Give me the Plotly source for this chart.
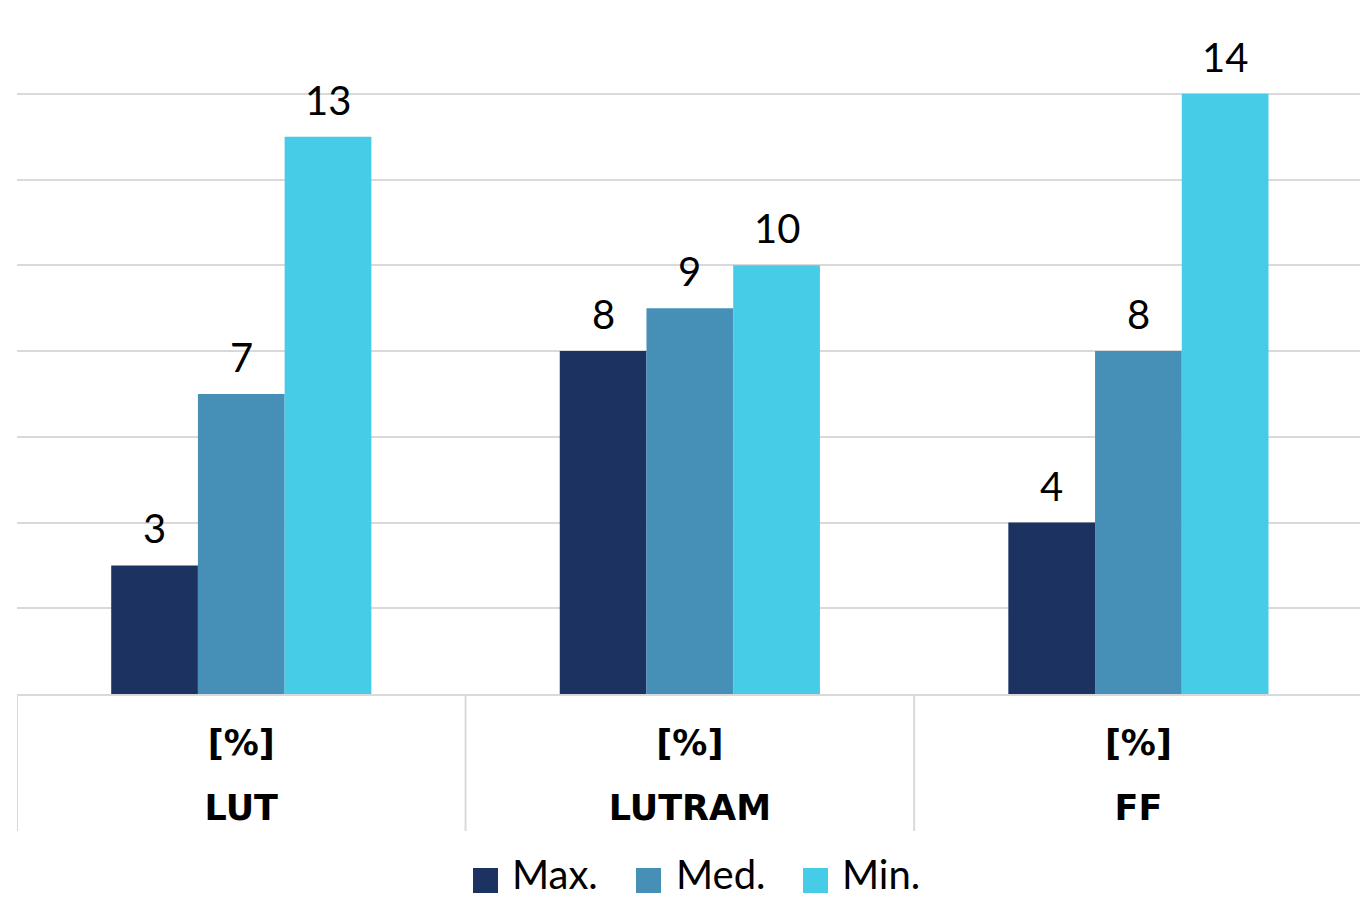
import plotly.graph_objects as go

# Resource categories and the unit shown under each group
categories = ["LUT", "LUTRAM", "FF"]
unit = "[%]"

# Utilisation per statistic
series_names = ["Max.", "Med.", "Min."]
max_vals = [3, 8, 4]
med_vals = [7, 9, 8]
min_vals = [13, 10, 14]

colors = ["#1C3361", "#4690B8", "#47CCE8"]
values = [max_vals, med_vals, min_vals]

W, H = 1360, 899
m_l, m_r, m_t, m_b = 17, 0, 8, 205
plot_w = W - m_l - m_r
plot_h = H - m_t - m_b
x_range = [-0.5, 2.494]

fig = go.Figure()
for name, vals, col in zip(series_names, values, colors):
    fig.add_trace(go.Bar(
        x=categories, y=vals, name=name,
        marker=dict(color=col, line=dict(width=0)),
        showlegend=False,
    ))

# Value labels above each bar
group_w = plot_w / (x_range[1] - x_range[0])
bar_w = group_w * (1 - 0.42) / 3
label_font = dict(family="Lato, Open Sans, sans-serif", size=40, color="#000000")
for i, vals in enumerate(values):
    for c, v in zip(categories, vals):
        fig.add_annotation(
            x=c, y=v, xref="x", yref="y",
            text=str(v), showarrow=False, yanchor="bottom",
            xshift=(i - 1) * bar_w, yshift=11, font=label_font,
        )

# Two-level category labels: unit on top, resource name below
tick_text = [
    f"<span style='font-size:35px'><b>{unit}</b></span><br><br>"
    f"<span style='font-size:35px'><b>{c}</b></span>"
    for c in categories
]

# Group dividers below the axis
def py(px):
    return -(px - (H - m_b)) / plot_h

for xb in [-0.5, 0.5, 1.5]:
    fig.add_shape(
        type="line", xref="x", yref="paper",
        x0=xb, x1=xb, y0=0, y1=py(831),
        line=dict(color="#D9D9D9", width=2),
    )

# Legend drawn as swatches and text below the chart
legend_items = [(473, 511), (636, 675), (803, 841)]
for (sx, tx), name, col in zip(legend_items, series_names, colors):
    fig.add_shape(
        type="rect", xref="paper", yref="paper",
        x0=(sx - m_l) / plot_w, x1=(sx + 25 - m_l) / plot_w,
        y0=py(868), y1=py(893),
        fillcolor=col, line=dict(width=0),
    )
    fig.add_annotation(
        x=(tx - m_l) / plot_w, y=py(899),
        xref="paper", yref="paper", xanchor="left", yanchor="bottom",
        text=name, showarrow=False, borderpad=0,
        font=dict(family="Lato, Open Sans, sans-serif", size=40, color="#000000"),
    )

fig.update_layout(
    width=W, height=H,
    margin=dict(l=m_l, r=m_r, t=m_t, b=m_b),
    paper_bgcolor="white", plot_bgcolor="white",
    barmode="group", bargap=0.42, bargroupgap=0,
    showlegend=False,
)
fig.update_xaxes(
    type="category", range=x_range,
    tickvals=categories, ticktext=tick_text,
    showline=True, linecolor="#D9D9D9", linewidth=2,
    tickfont=dict(family="DejaVu Sans, sans-serif", size=25, color="#000000"),
    ticks="", showgrid=False, ticklabelstandoff=29,
)
fig.update_yaxes(
    range=[0, 16], dtick=2, showticklabels=False,
    showgrid=True, gridcolor="#D9D9D9", gridwidth=2,
    zeroline=False, ticks="",
)

fig.write_html("out.html")
